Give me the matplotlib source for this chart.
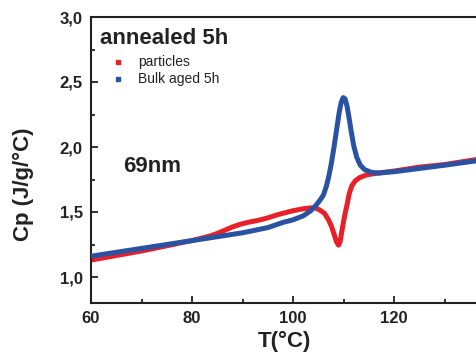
import matplotlib
matplotlib.use("Agg")
import matplotlib.pyplot as plt
from matplotlib.ticker import MultipleLocator, FuncFormatter

plt.rcParams['font.family'] = ['Liberation Sans', 'DejaVu Sans']

red_T = [60, 65, 70, 75, 78, 80, 82, 83.5, 85, 86.5, 88, 89.5, 91, 93, 95, 97, 100, 102, 103.5,
         104.5, 105.3, 106.2, 107, 107.6, 108.1, 108.6, 109.0, 109.3, 109.6, 110.0, 110.3,
         110.7, 111.1, 111.6, 112.3, 113.2, 114.5, 116, 118, 120, 125, 130, 136.5]
red_Cp = [1.13, 1.165, 1.20, 1.24, 1.265, 1.28, 1.30, 1.315, 1.335, 1.36, 1.385, 1.405, 1.42,
          1.435, 1.455, 1.48, 1.51, 1.525, 1.532, 1.53, 1.515, 1.49, 1.44, 1.39, 1.33, 1.27,
          1.245, 1.27, 1.34, 1.43, 1.49, 1.56, 1.64, 1.70, 1.74, 1.765, 1.785, 1.795, 1.805,
          1.815, 1.845, 1.865, 1.905]

blue_T = [60, 65, 70, 75, 80, 85, 90, 95, 98, 100, 102, 103.5, 104.5, 105.3, 106, 106.6,
          107.1, 107.6, 108.1, 108.6, 109.1, 109.5, 109.9, 110.3, 110.7, 111.1, 111.5, 112.0,
          112.6, 113.3, 114.2, 115.5, 117, 120, 125, 130, 136.5]
blue_Cp = [1.16, 1.19, 1.22, 1.25, 1.28, 1.31, 1.34, 1.38, 1.42, 1.44, 1.47, 1.51, 1.55, 1.59,
           1.63, 1.70, 1.78, 1.88, 2.00, 2.13, 2.26, 2.34, 2.38, 2.37, 2.31, 2.22, 2.12, 2.01,
           1.92, 1.86, 1.825, 1.805, 1.80, 1.81, 1.835, 1.86, 1.895]

fig = plt.figure(figsize=(4.77, 3.59), dpi=100)
ax = fig.add_axes([91/477, 1 - 303/359, 1 - 91/477, (303 - 17)/359])

red = '#e8202a'
blue = '#2a52a3'
ax.plot(red_T, red_Cp, color=red, lw=3.6, solid_capstyle='butt', zorder=2)
ax.plot(blue_T, blue_Cp, color=blue, lw=3.6, solid_capstyle='butt', zorder=3)

ax.set_xlim(60, 136.4)
ax.set_ylim(0.8, 3.0)
ax.xaxis.set_major_locator(MultipleLocator(20))
ax.xaxis.set_minor_locator(MultipleLocator(10))
ax.yaxis.set_major_locator(MultipleLocator(0.5))
ax.yaxis.set_minor_locator(MultipleLocator(0.25))
ax.yaxis.set_major_formatter(FuncFormatter(lambda v, p: f"{v:.1f}".replace('.', ',')))

ax.spines['right'].set_visible(False)
for s in ['left', 'top', 'bottom']:
    ax.spines[s].set_linewidth(1.5)
    ax.spines[s].set_color('#222222')
ax.tick_params(which='both', direction='in', width=1.3, color='#222222')
ax.tick_params(which='major', length=5, labelsize=12, pad=6)
ax.tick_params(which='minor', length=3)
ax.tick_params(top=False, right=False)
for lab in ax.get_xticklabels() + ax.get_yticklabels():
    lab.set_fontweight('bold')
    lab.set_color('#222222')

ax.set_xlabel('T(°C)', fontsize=16, fontweight='bold', color='#222222', labelpad=3)
ax.set_ylabel('Cp (J/g/°C)', fontsize=16, fontweight='bold', color='#222222')
ax.yaxis.set_label_coords((34 - 91) / 386, (303 - 184) / 286)

fig.text(100/477, 1 - 39/359, 'annealed 5h', fontsize=16, fontweight='bold',
         color='#222222', va='center', ha='left')
fig.text(123/477, 1 - 166/359, '69nm', fontsize=16, fontweight='bold',
         color='#222222', va='center', ha='left')

fig.patches.append(plt.Rectangle((116/477, 1 - 64/359), 4/477, 4/359, transform=fig.transFigure,
                                 color=red, figure=fig))
fig.patches.append(plt.Rectangle((116/477, 1 - 81/359), 4/477, 4/359, transform=fig.transFigure,
                                 color=blue, figure=fig))
fig.text(138/477, 1 - 62/359, 'particles', fontsize=10, color='#222222', va='center', ha='left')
fig.text(138/477, 1 - 79/359, 'Bulk aged 5h', fontsize=10, color='#222222', va='center', ha='left')

fig.savefig('out.png', dpi=100)
